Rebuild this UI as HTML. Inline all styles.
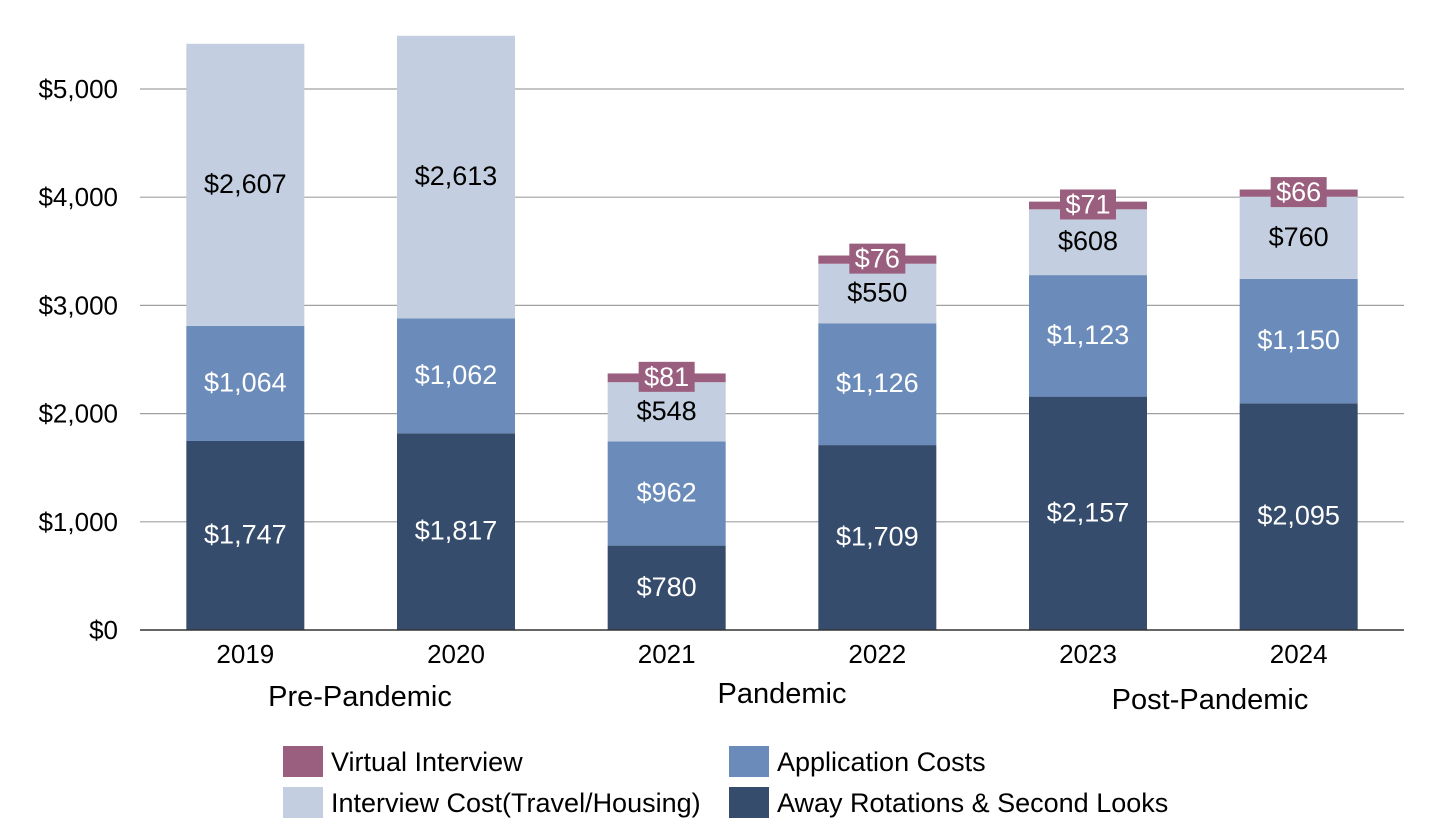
<!DOCTYPE html>
<html><head><meta charset="utf-8"><style>
html,body{margin:0;padding:0;background:#fff;}
svg{display:block;font-family:"Liberation Sans",Arial,sans-serif;}
</style></head><body>
<svg id="chart" width="1430" height="833" viewBox="0 0 1430 833" xmlns="http://www.w3.org/2000/svg">
<g id="grid"></g>
<g id="yaxis"></g>
<g id="bars"></g>
<g id="xaxis"></g>
<g id="legend"></g>
</svg>
<script>
const years = ["2019","2020","2021","2022","2023","2024"];
const away = [1747,1817,780,1709,2157,2095];
const application = [1064,1062,962,1126,1123,1150];
const interview = [2607,2613,548,550,608,760];
const virtualInt = [0,0,81,76,71,66];
const yTicks = [0,1000,2000,3000,4000,5000];
const yTickLabels = ["$0","$1,000","$2,000","$3,000","$4,000","$5,000"];
const periods = ["Pre-Pandemic","Pandemic","Post-Pandemic"];

const NS="http://www.w3.org/2000/svg";
const x0=140,x1=1404,yBase=630,pxPer=541/5000;
const band=(x1-x0)/years.length, barW=118;
const yS=v=>yBase-v*pxPer;
const xC=i=>x0+band*(i+0.5);
function mk(tag,attrs,parent,text){const e=document.createElementNS(NS,tag);for(const k in attrs)e.setAttribute(k,attrs[k]);if(text!==undefined)e.textContent=text;parent.appendChild(e);return e;}
const fmt=v=>"$"+v.toLocaleString("en-US");

const grid=document.getElementById('grid'),yax=document.getElementById('yaxis'),bars=document.getElementById('bars'),xax=document.getElementById('xaxis'),leg=document.getElementById('legend');
yTicks.forEach((t,i)=>{
  if(t>0){const l=mk('line',{x1:x0,x2:x1,y1:yS(t),y2:yS(t),stroke:'#a0a0a0','stroke-width':1.2},grid);
  
  }
  const tx=mk('text',{x:118,y:yS(t)+9,'text-anchor':'end','font-size':26,fill:'#000'},yax,yTickLabels[i]);
  
  
});
const series=[
 {vals:away,color:'#364c6c',tc:'#fff',name:'away-rotations'},
 {vals:application,color:'#6b8cba',tc:'#fff',name:'application-costs'},
 {vals:interview,color:'#c3cfe0',tc:'#000',name:'interview-cost'},
 {vals:virtualInt,color:'#9a5f7e',tc:'#fff',name:'virtual-interview'}
];
years.forEach((yr,i)=>{
  let cum=0;
  series.forEach((s,si)=>{
    const v=s.vals[i]; if(!v){return;}
    const top=yS(cum+v),bot=yS(cum);
    const r=mk('rect',{x:xC(i)-barW/2,y:top,width:barW,height:bot-top,fill:s.color},bars);
    
    
    const mid=(top+bot)/2;
    if(si===3){
      const bx=mk('rect',{x:xC(i)-28,y:mid-16,width:56,height:30,fill:s.color},bars);
      
      
    }
    const lab=mk('text',{x:xC(i),y:mid+8,'text-anchor':'middle','font-size':27,fill:s.tc},bars,fmt(v));
    
    
    cum+=v;
  });
  const xl=mk('text',{x:xC(i),y:663,'text-anchor':'middle','font-size':26,fill:'#000'},xax,yr);
  
  
});
const axl=mk('line',{x1:x0,x2:x1,y1:yBase,y2:yBase,stroke:'#333','stroke-width':1.5},xax);


const pPos=[[360,706],[782,703],[1210,709]];
periods.forEach((p,i)=>{
  const t=mk('text',{x:pPos[i][0],y:pPos[i][1],'text-anchor':'middle','font-size':29,fill:'#000'},xax,p);
  
  
});
const legItems=[["Virtual Interview","#9a5f7e",283,746],["Application Costs","#6b8cba",729,746],["Interview Cost(Travel/Housing)","#c3cfe0",283,787],["Away Rotations & Second Looks","#364c6c",729,787]];
legItems.forEach(it=>{
  const g=mk('g',{},leg);
  
  
  mk('rect',{x:it[2],y:it[3],width:40,height:31,fill:it[1]},g);
  mk('text',{x:it[2]+48,y:it[3]+25,'font-size':27,fill:'#000'},g,it[0]);
});
</script>
</body></html>
